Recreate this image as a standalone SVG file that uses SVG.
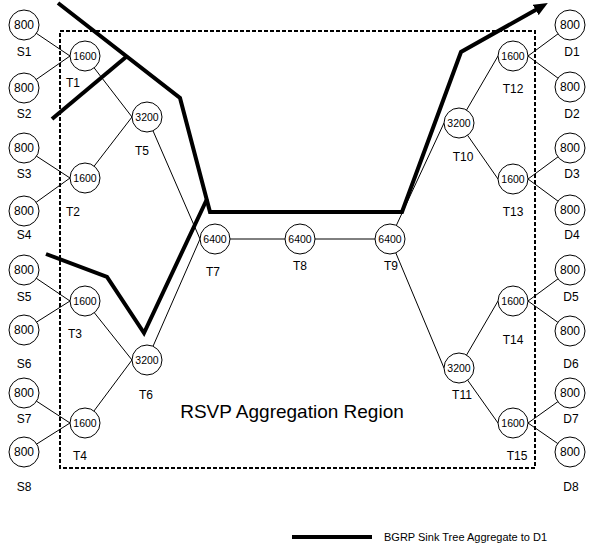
<svg xmlns="http://www.w3.org/2000/svg" width="591" height="548" viewBox="0 0 591 548">
<style>
  .node circle { fill: #fff; stroke: #000; stroke-width: 1; }
  .num { font-family: "Liberation Sans", Arial, sans-serif; font-size: 10.5px; text-anchor: middle; fill: #000; }
  .num8 { font-family: "Liberation Sans", Arial, sans-serif; font-size: 12px; text-anchor: middle; fill: #000; }
  .lbl { font-family: "Liberation Sans", Arial, sans-serif; font-size: 12px; text-anchor: middle; fill: #000; }
  .thin { stroke: #000; stroke-width: 1; fill: none; }
  .thick { stroke: #000; stroke-width: 4; fill: none; stroke-linejoin: miter; }
  .region { fill: none; stroke: #000; stroke-width: 2; stroke-dasharray: 4 2; }
</style>
<defs>
  <marker id="arrow" markerUnits="userSpaceOnUse" markerWidth="16" markerHeight="12" refX="5" refY="6" orient="auto">
    <path d="M0,0 L14,6 L0,12 z" fill="#000"/>
  </marker>
</defs>
<rect width="591" height="548" fill="#fff"/>

<rect id="region" class="region" x="60" y="31" width="475" height="437"/>
<text x="292" y="418" font-family="Liberation Sans, Arial, sans-serif" font-size="19" text-anchor="middle">RSVP Aggregation Region</text>

<g id="connectors">
  <line class="thin" x1="24" y1="25" x2="70" y2="56"/>
  <line class="thin" x1="24" y1="88" x2="70" y2="56"/>
  <line class="thin" x1="24" y1="148" x2="70" y2="178"/>
  <line class="thin" x1="24" y1="211" x2="70" y2="178"/>
  <line class="thin" x1="24" y1="270" x2="70" y2="301"/>
  <line class="thin" x1="24" y1="330" x2="70" y2="301"/>
  <line class="thin" x1="24" y1="393" x2="70" y2="423"/>
  <line class="thin" x1="24" y1="452" x2="70" y2="423"/>
  <line class="thin" x1="85" y1="56" x2="132" y2="117"/>
  <line class="thin" x1="85" y1="178" x2="132" y2="117"/>
  <line class="thin" x1="85" y1="301" x2="132" y2="360"/>
  <line class="thin" x1="85" y1="423" x2="132" y2="360"/>
  <line class="thin" x1="147" y1="117" x2="200" y2="239"/>
  <line class="thin" x1="147" y1="360" x2="200" y2="239"/>
  <line class="thin" x1="215" y1="239" x2="390" y2="239"/>
  <line class="thin" x1="390" y1="239" x2="444" y2="123"/>
  <line class="thin" x1="390" y1="239" x2="444" y2="368"/>
  <line class="thin" x1="459" y1="123" x2="498" y2="56"/>
  <line class="thin" x1="459" y1="123" x2="498" y2="179"/>
  <line class="thin" x1="459" y1="368" x2="498" y2="301"/>
  <line class="thin" x1="459" y1="368" x2="498" y2="423"/>
  <line class="thin" x1="528" y1="56" x2="570" y2="25"/>
  <line class="thin" x1="528" y1="56" x2="570" y2="87"/>
  <line class="thin" x1="528" y1="179" x2="570" y2="148"/>
  <line class="thin" x1="528" y1="179" x2="570" y2="210"/>
  <line class="thin" x1="528" y1="301" x2="570" y2="270"/>
  <line class="thin" x1="528" y1="301" x2="570" y2="331"/>
  <line class="thin" x1="528" y1="423" x2="570" y2="393"/>
  <line class="thin" x1="528" y1="423" x2="570" y2="452"/>
</g>

<g id="S1" class="node"><circle cx="24" cy="25" r="15"/><text class="num8" x="24" y="29">800</text><text class="lbl" x="24" y="56">S1</text></g>
<g id="S2" class="node"><circle cx="24" cy="88" r="15"/><text class="num8" x="24" y="92">800</text><text class="lbl" x="24" y="118">S2</text></g>
<g id="S3" class="node"><circle cx="24" cy="148" r="15"/><text class="num8" x="24" y="152">800</text><text class="lbl" x="24" y="178">S3</text></g>
<g id="S4" class="node"><circle cx="24" cy="211" r="15"/><text class="num8" x="24" y="215">800</text><text class="lbl" x="24" y="239">S4</text></g>
<g id="S5" class="node"><circle cx="24" cy="270" r="15"/><text class="num8" x="24" y="274">800</text><text class="lbl" x="24" y="301">S5</text></g>
<g id="S6" class="node"><circle cx="24" cy="330" r="15"/><text class="num8" x="24" y="334">800</text><text class="lbl" x="24" y="368">S6</text></g>
<g id="S7" class="node"><circle cx="24" cy="393" r="15"/><text class="num8" x="24" y="397">800</text><text class="lbl" x="24" y="423">S7</text></g>
<g id="S8" class="node"><circle cx="24" cy="452" r="15"/><text class="num8" x="24" y="456">800</text><text class="lbl" x="24" y="491">S8</text></g>

<g id="T1" class="node"><circle cx="85" cy="56" r="15"/><text class="num" x="85" y="60">1600</text><text class="lbl" x="73" y="87">T1</text></g>
<g id="T2" class="node"><circle cx="85" cy="178" r="15"/><text class="num" x="85" y="182">1600</text><text class="lbl" x="73" y="216">T2</text></g>
<g id="T3" class="node"><circle cx="85" cy="301" r="15"/><text class="num" x="85" y="305">1600</text><text class="lbl" x="75" y="338">T3</text></g>
<g id="T4" class="node"><circle cx="85" cy="423" r="15"/><text class="num" x="85" y="427">1600</text><text class="lbl" x="80" y="460">T4</text></g>
<g id="T5" class="node"><circle cx="147" cy="117" r="15"/><text class="num" x="147" y="121">3200</text><text class="lbl" x="142" y="155">T5</text></g>
<g id="T6" class="node"><circle cx="147" cy="360" r="15"/><text class="num" x="147" y="364">3200</text><text class="lbl" x="146" y="399">T6</text></g>
<g id="T7" class="node"><circle cx="215" cy="239" r="15"/><text class="num" x="215" y="243">6400</text><text class="lbl" x="213" y="276">T7</text></g>
<g id="T8" class="node"><circle cx="300" cy="239" r="15"/><text class="num" x="300" y="243">6400</text><text class="lbl" x="300" y="270">T8</text></g>
<g id="T9" class="node"><circle cx="390" cy="239" r="15"/><text class="num" x="390" y="243">6400</text><text class="lbl" x="391" y="270">T9</text></g>
<g id="T10" class="node"><circle cx="459" cy="123" r="15"/><text class="num" x="459" y="127">3200</text><text class="lbl" x="463" y="161">T10</text></g>
<g id="T11" class="node"><circle cx="459" cy="368" r="15"/><text class="num" x="459" y="372">3200</text><text class="lbl" x="462" y="399">T11</text></g>
<g id="T12" class="node"><circle cx="513" cy="56" r="15"/><text class="num" x="513" y="60">1600</text><text class="lbl" x="513" y="93">T12</text></g>
<g id="T13" class="node"><circle cx="513" cy="179" r="15"/><text class="num" x="513" y="183">1600</text><text class="lbl" x="513" y="216">T13</text></g>
<g id="T14" class="node"><circle cx="513" cy="301" r="15"/><text class="num" x="513" y="305">1600</text><text class="lbl" x="513" y="344">T14</text></g>
<g id="T15" class="node"><circle cx="513" cy="423" r="15"/><text class="num" x="513" y="427">1600</text><text class="lbl" x="517" y="460">T15</text></g>

<g id="D1" class="node"><circle cx="570" cy="25" r="15"/><text class="num8" x="570" y="29">800</text><text class="lbl" x="572" y="56">D1</text></g>
<g id="D2" class="node"><circle cx="570" cy="87" r="15"/><text class="num8" x="570" y="91">800</text><text class="lbl" x="572" y="118">D2</text></g>
<g id="D3" class="node"><circle cx="570" cy="148" r="15"/><text class="num8" x="570" y="152">800</text><text class="lbl" x="572" y="178">D3</text></g>
<g id="D4" class="node"><circle cx="570" cy="210" r="15"/><text class="num8" x="570" y="214">800</text><text class="lbl" x="572" y="239">D4</text></g>
<g id="D5" class="node"><circle cx="570" cy="270" r="15"/><text class="num8" x="570" y="274">800</text><text class="lbl" x="571" y="301">D5</text></g>
<g id="D6" class="node"><circle cx="570" cy="331" r="15"/><text class="num8" x="570" y="335">800</text><text class="lbl" x="571" y="368">D6</text></g>
<g id="D7" class="node"><circle cx="570" cy="393" r="15"/><text class="num8" x="570" y="397">800</text><text class="lbl" x="571" y="423">D7</text></g>
<g id="D8" class="node"><circle cx="570" cy="452" r="15"/><text class="num8" x="570" y="456">800</text><text class="lbl" x="571" y="491">D8</text></g>

<g id="sink-tree">
  <polyline class="thick" points="58,3 180,98 210,212 402,212 461,52 540,7.5" marker-end="url(#arrow)"/>
  <line class="thick" x1="52" y1="119" x2="126" y2="57"/>
  <polyline class="thick" points="46,254 107,277 144,333 207,199"/>
</g>

<g id="legend">
  <line class="thick" x1="292" y1="537" x2="372" y2="537"/>
  <text x="384" y="541" font-family="Liberation Sans, Arial, sans-serif" font-size="11">BGRP Sink Tree Aggregate to D1</text>
</g>
</svg>
